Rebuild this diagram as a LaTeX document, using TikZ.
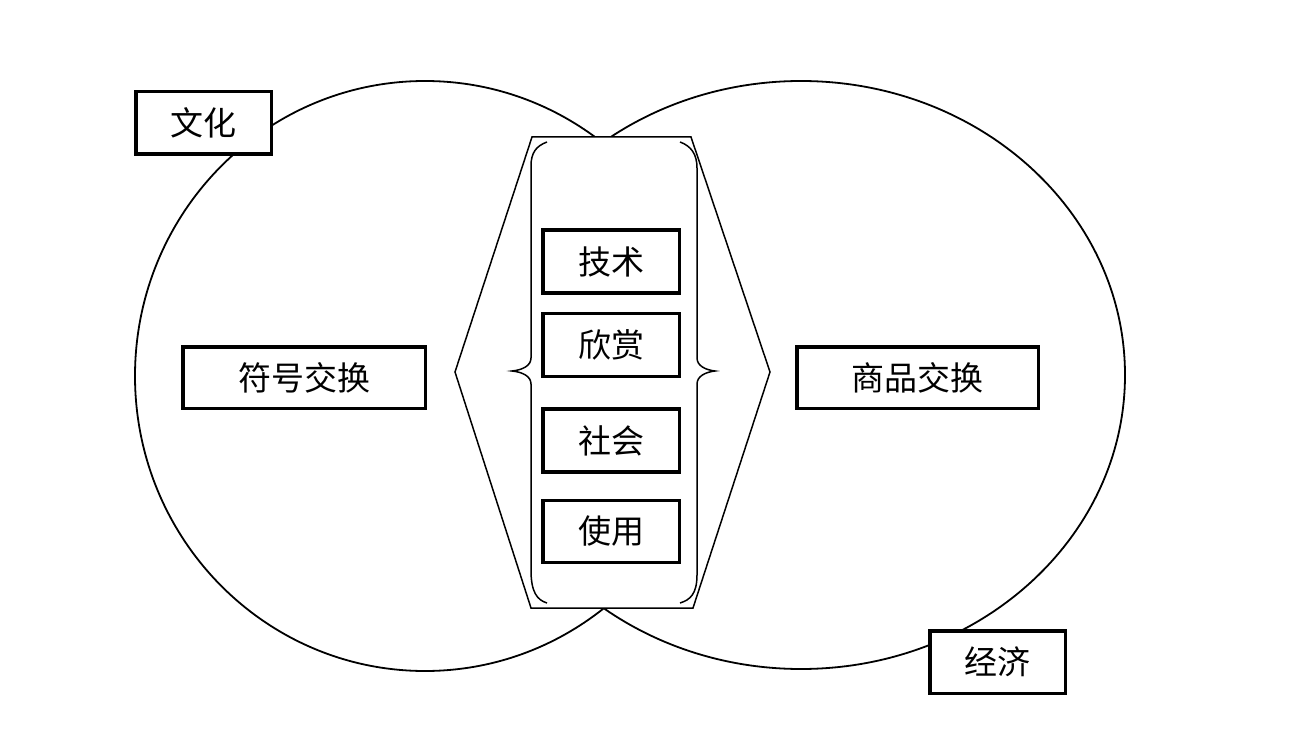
\documentclass[tikz,border=0pt]{standalone}
\usepackage{fontspec}
\newfontfamily\cjk{Noto Sans CJK SC}
\begin{document}
\begin{tikzpicture}[x=1pt,y=-1pt,
  box/.style={draw, line width=3.5pt, fill=white, inner sep=0pt,
    font=\cjk\fontsize{33}{33}\selectfont},
  ring/.style={line width=1.8pt},
  brace/.style={line width=1.5pt}]
\path[use as bounding box, fill=white] (0,0) rectangle (1294,738);
% two overlapping ellipses
\draw[ring] (425,376) ellipse [x radius=290, y radius=295];
\draw[ring] (801,375) ellipse [x radius=324, y radius=294];
% central hexagon
\draw[line width=1.5pt, fill=white] (455,372) -- (532,137) -- (691,137) -- (770,372) -- (693,608) -- (531,608) -- cycle;
% braces
\draw[brace] (547,142) .. controls (536,146) and (531,153) .. (531,166) -- (531,358)
  .. controls (531,366) and (522,370) .. (512,371)
  .. controls (522,372) and (531,376) .. (531,384) -- (531,570)
  .. controls (531,592) and (537,600) .. (547,603);
\draw[brace] (680,142) .. controls (691,146) and (697,154) .. (697,168) -- (697,358)
  .. controls (697,366) and (706,370) .. (715,371)
  .. controls (706,372) and (697,376) .. (697,384) -- (697,575)
  .. controls (697,594) and (690,600) .. (680,603);
% boxes
\node[box, minimum width=135.5pt, minimum height=62.5pt] (wenhua) at (203.5,123) {文化};
\node[box, minimum width=135.5pt, minimum height=62.5pt] (jingji) at (997.5,662) {经济};
\node[box, minimum width=242.5pt, minimum height=61.5pt] (fuhao) at (304,377.5) {符号交换};
\node[box, minimum width=241.5pt, minimum height=61.5pt] (shangpin) at (917.5,377.5) {商品交换};
\node[box, minimum width=136.5pt, minimum height=63pt] (jishu) at (611,261.5) {技术};
\node[box, minimum width=136.5pt, minimum height=63pt] (xinshang) at (611,345) {欣赏};
\node[box, minimum width=136.5pt, minimum height=63pt] (shehui) at (611,440.5) {社会};
\node[box, minimum width=136.5pt, minimum height=62pt] (shiyong) at (611,531.5) {使用};
\end{tikzpicture}
\end{document}
